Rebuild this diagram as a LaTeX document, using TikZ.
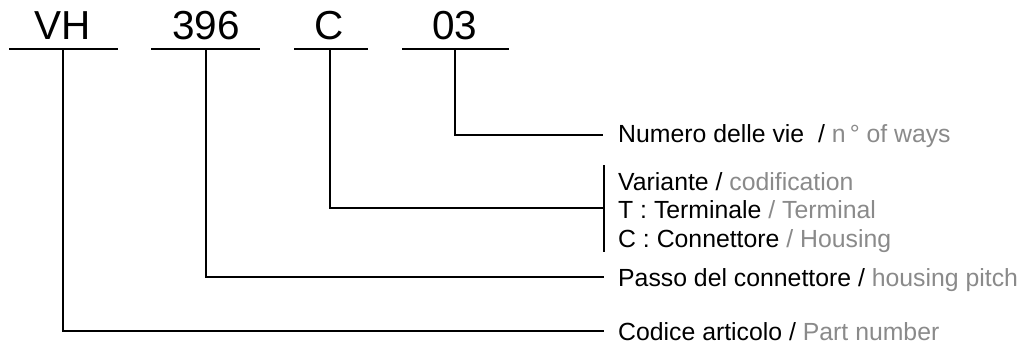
\documentclass[tikz,border=0pt]{standalone}
\usepackage{fontspec}
\setmainfont{Liberation Sans}
\definecolor{eng}{HTML}{8A8A8A}
\begin{document}
\begin{tikzpicture}[x=1pt,y=-1pt,
  big/.style={font=\fontsize{40.5}{48}\selectfont, inner sep=0pt, anchor=base},
  lab/.style={font=\fontsize{24.8}{28.5}\selectfont, inner sep=0pt, anchor=base west, align=left},
  ln/.style={line width=1.2pt, line cap=rect}]
\useasboundingbox (0,0) rectangle (1026,354);
% code parts
\node[big] (vh) at (63,39) {VH};
\node[big] (n396) at (206,39) {396};
\node[big] (c) at (329,39) {C};
\node[big] (n03) at (455,39) {03};
% underlines
\draw[ln] (10,49) -- (117,49);
\draw[ln] (152,49) -- (259,49);
\draw[ln] (295,49) -- (367,49);
\draw[ln] (403,49) -- (508,49);
\coordinate (svh) at (63,49);
\coordinate (s396) at (206,49);
\coordinate (sc) at (330,49);
\coordinate (s03) at (455,49);
% labels
\node[lab] (vie) at (618,142) {Numero delle vie \ / \textcolor{eng}{n\,° of ways}};
\node[lab] (var) at (618,190) {Variante / \textcolor{eng}{codification}};
\node[lab] (term) at (618,218.5) {T : Terminale \textcolor{eng}{/ Terminal}};
\node[lab] (conn) at (618,247) {C : Connettore \textcolor{eng}{/ Housing}};
\node[lab] (passo) at (618,286) {Passo del connettore / \textcolor{eng}{housing pitch}};
\node[lab] (cod) at (618,340) {Codice articolo / \textcolor{eng}{Part number}};
% end points
\coordinate (evie) at (602,135);
\coordinate (evar) at (604,208);
\coordinate (epasso) at (603,277);
\coordinate (ecod) at (603,331);
% bracket
\draw[line width=1.2pt] (604,165) -- (604,252);
% connectors
\draw[ln] (s03) |- (evie);
\draw[ln] (sc) |- (evar);
\draw[ln] (s396) |- (epasso);
\draw[ln] (svh) |- (ecod);
\end{tikzpicture}
\end{document}
